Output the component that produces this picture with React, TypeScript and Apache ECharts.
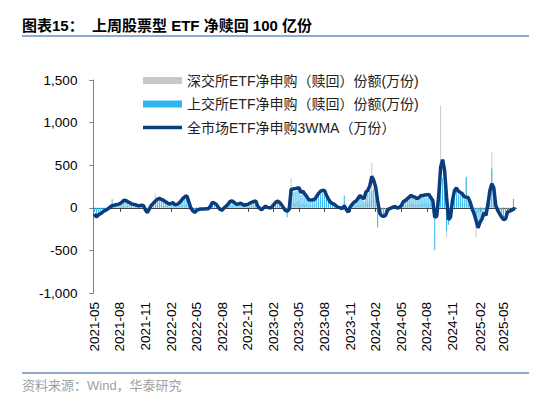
import React, { useEffect, useRef } from "react";
import * as echarts from "echarts";

// ---------- data ----------
const START_DATE = "2021-05-07"; // first weekly observation (Friday)
const WEEK_COUNT = 215;
const LABEL_MONTHS = ["02", "05", "08", "11"];
const Y_TICKS = [-1000, -500, 0, 500, 1000, 1500];

const SERIES_NAMES = [
  "深交所ETF净申购（赎回）份额(万份)",
  "上交所ETF净申购（赎回）份额(万份)",
  "全市场ETF净申购3WMA（万份）",
];

// 深交所 weekly net creation (万份)
const SZ_VALUES = [
  -20, -30, -20, -20, -10, -10, -10, -10, 0, 20,
  10, 10, 10, 10, 20, 20, 20, 20, 20, 10,
  10, 10, 10, 10, 10, 10, -10, -20, 0, 10,
  20, 160, 30, 30, 30, 20, 20, 20, 10, 10,
  20, 10, 10, 20, 20, 30, 30, 40, 20, -10,
  -10, -20, -10, -10, -10, 0, 0,
  0, 0, 10, 20, 20, 10, 0, -10, -10, 0, 10, 10, 20, 20,
  20, 10, 10, 20, 10, 10, 10, 10, 20, 20, 20, 20, 10, 0, -10, 0, 10, 0, 0,
  0,
  10, 20, 20, 20, 10, 0, -10, -30, -10, 350, 60,
  60, 70, 80, 40, 60, 50, 40, 30, 30, 30,
  30, 40, 50, 60, 60, 60, 40, 30, 20, 20, 10, 10, 0,
  0,
  -10, 40, -10, -20, 0, 10, 20,
  20, 30, 40, 30, 30, 50, 60, 80, 530, 100,
  60, -40, -30, -30, -30, -20, -10, 0, 0, 0,
  10, 0, 0, 10, 20, 30, 30, 40, 50, 40,
  40, 30, 40, 40, 50, 50,
  50,
  50, 40, 30, -100,
  -30, 60, 1200, 300, 150, -350, -100, -40, 20, 60,
  80, 60, 50, 60, 40, 365, 40, 20, -10, -20,
  -350, -60, -40, -30, -20, -30, 20, 60, 650, 80,
  10, -10, -20, -40, -40, -40, -20, -10, -10, 30, -10,
];

// 上交所 weekly net creation (万份)
const SH_VALUES = [
  -50, -120, -80, -60, -50, -30, -20, -20, 10, 100,
  10, 30, 30, 40, 60, 80, 70, 60, 50, 40,
  30, 30, 20, 20, 30, 10, -40, -60, 0, 30,
  50, 70, 80, 90, 80, 70, 60, 50, 30, 40,
  50, 20, 30, 50, 70, 90, 110, 120, 50, -20,
  -40, -60, -30, -20, -10, -20, -10,
  -10, -10, 20, 60, 40, 30, 0, -20, -30, 0, 20, 40, 60, 70,
  50, 30, 30, 50, 40, 20, 30, 30, 40, 50, 60, 70, 10, -10, -30, 0, 10, 0, -10,
  0,
  30, 50, 70, 50, 30, 0, -40, -110, -30, 170, 180,
  190, 200, 200, 150, 160, 130, 100, 80, 70, 80,
  80, 110, 140, 160, 170, 160, 120, 80, 50, 40, 30, 10, 0,
  0,
  -20, 145, -30, -60, 0, 30, 50,
  70, 90, 120, 100, 80, 150, 170, 200, 200, 230,
  180, -230, -70, -90, -90, -80, -30, -10, 0, 10,
  10, -10, 0, 20, 60, 70, 90, 100, 130, 110,
  100, 80, 100, 120, 130, 120,
  125,
  130, 100, 60, -495,
  -100, 100, 320, 350, 260, -270, -200, -100, 60, 160,
  200, 160, 150, 140, 100, 360, 100, 50, -20, -60,
  -120, -200, -150, -110, -50, -80, 30, 150, 460, 180,
  20, -20, -60, -90, -120, -110, -40, -30, -20, 105, -10,
];

// 全市场 3-week moving average (万份)
const WMA_VALUES = [
  -70, -110, -85, -70, -55, -35, -25, -10, 10, 25,
  30, 35, 40, 50, 65, 90, 85, 70, 60, 45,
  40, 35, 25, 25, 30, 25, -30, -55, -10, 30,
  55, 80, 100, 110, 100, 90, 75, 60, 45, 50,
  60, 35, 40, 55, 80, 110, 130, 140, 70, 0,
  -35, -55, -30, -20, -15, -15, -15,
  -10, -10, 20, 65, 55, 40, 5, -20, -25, 0, 20, 45, 75, 80,
  65, 45, 40, 55, 45, 30, 35, 40, 55, 65, 75, 80, 20, -5, -25, 0, 20, 5, 0,
  0,
  35, 60, 80, 65, 40, 5, -30, -40, -20, 215, 220,
  225, 230, 235, 180, 195, 160, 130, 95, 90, 95,
  100, 135, 170, 195, 205, 200, 145, 100, 65, 50, 40, 20, 5,
  0,
  -10, 25, -20, -50, 10, 40, 65,
  80, 110, 145, 120, 105, 185, 205, 260, 370, 320,
  240, 80, -60, -95, -100, -90, -30, -10, 0, 10,
  15, -5, 5, 25, 70, 85, 105, 125, 145, 130,
  125, 105, 120, 145, 145, 150,
  152,
  157, 120, 86, -110,
  -100, 140, 480, 565, 440, 125, -140, -110, 86, 200,
  235, 196, 180, 165, 130, 125, 120, 67, -12, -70,
  -150, -235, -170, -130, -60, -90, 40, 200, 282, 235,
  27, -30, -70, -110, -140, -130, -50, -40, -30, -12, -15,
];

// weekly category dates
const DATES: string[] = (() => {
  const out: string[] = [];
  const [y, m, d] = START_DATE.split("-").map(Number);
  const t0 = Date.UTC(y, m - 1, d);
  for (let i = 0; i < WEEK_COUNT; i++) {
    out.push(new Date(t0 + i * 7 * 86400000).toISOString().slice(0, 10));
  }
  return out;
})();

const showDateLabel = (index: number, value: string) => {
  const month = value.slice(5, 7);
  if (!LABEL_MONTHS.includes(month)) return false;
  if (index === 0) return true;
  return DATES[index - 1].slice(5, 7) !== month;
};

const FONT = '"Liberation Sans", Arial, "Noto Sans CJK SC", sans-serif';
// thin horizontal bar inside a 39x7 box (tiny corner specks fix the box size)
const LINE_ICON =
  "path://M0,0L0.05,0L0.05,0.05Z M0,1.7L39,1.7L39,5.3L0,5.3Z M38.95,7L39,7L39,6.95Z";

export default function App() {
  const ref = useRef<HTMLDivElement>(null);

  useEffect(() => {
    document.body.style.margin = "0";
    if (!ref.current) return;
    const chart = echarts.init(ref.current, undefined, { renderer: "svg" });
    const option: any = {
      animation: false,
      backgroundColor: "#ffffff",
      textStyle: { fontFamily: FONT },
      graphic: [
        {
          type: "text",
          left: 22,
          top: 18,
          style: {
            text: "图表15：  上周股票型 ETF 净赎回 100 亿份",
            fontSize: 15,
            fontWeight: "bold",
            fontFamily: FONT,
            fill: "#000000",
          },
        },
        {
          type: "line",
          shape: { x1: 22, y1: 36, x2: 529, y2: 36 },
          style: { stroke: "#8FAACA", lineWidth: 2 },
        },
        {
          type: "line",
          shape: { x1: 22, y1: 373, x2: 529, y2: 373 },
          style: { stroke: "#8FAACA", lineWidth: 2 },
        },
        {
          type: "text",
          left: 22,
          top: 379,
          style: {
            text: "资料来源：Wind，华泰研究",
            fontSize: 13,
            fontFamily: FONT,
            fill: "#A0A0A0",
          },
        },
      ],
      legend: {
        orient: "vertical",
        left: 138,
        top: 67.5,
        itemWidth: 39,
        itemHeight: 7,
        itemGap: 7.5,
        symbolKeepAspect: false,
        textStyle: { fontSize: 14, lineHeight: 16, color: "#222", fontFamily: FONT },
        data: [
          { name: SERIES_NAMES[0], icon: "rect" },
          { name: SERIES_NAMES[1], icon: "rect" },
          { name: SERIES_NAMES[2], icon: LINE_ICON, itemStyle: { color: "#0B3C7E" } },
        ],
      },
      grid: { left: 93.4, top: 80, width: 423, height: 213 },
      xAxis: [
        {
          type: "category",
          data: DATES,
          position: "bottom",
          axisLine: { show: false, onZero: false },
          axisTick: { show: false },
          splitLine: { show: false },
          axisLabel: {
            interval: showDateLabel,
            formatter: (v: string) => v.slice(0, 7),
            rotate: 90,
            fontSize: 13.5,
            color: "#000",
            margin: 9,
            fontFamily: FONT,
          },
        },
        {
          type: "category",
          data: DATES,
          position: "bottom",
          axisLine: { show: true, onZero: true, lineStyle: { color: "#404040", width: 1 } },
          axisTick: {
            show: true,
            interval: showDateLabel,
            alignWithLabel: true,
            length: 4,
            lineStyle: { color: "#404040" },
          },
          axisLabel: { show: false },
          splitLine: { show: false },
        },
      ],
      yAxis: {
        type: "value",
        min: Y_TICKS[0],
        max: Y_TICKS[Y_TICKS.length - 1],
        interval: 500,
        axisLine: { show: true, lineStyle: { color: "#7F7F7F", width: 1 } },
        axisTick: { show: true, length: 4, lineStyle: { color: "#7F7F7F" } },
        splitLine: { show: false },
        axisLabel: {
          margin: 16,
          fontSize: 13.5,
          color: "#000",
          fontFamily: FONT,
          formatter: (v: number) => v.toLocaleString("en-US"),
        },
      },
      series: [
        {
          name: SERIES_NAMES[0],
          type: "bar",
          xAxisIndex: 0,
          data: SZ_VALUES,
          barWidth: 1,
          barGap: "-100%",
          itemStyle: { color: "#C8C8C8" },
        },
        {
          name: SERIES_NAMES[1],
          type: "bar",
          xAxisIndex: 0,
          data: SH_VALUES,
          barWidth: 1,
          barGap: "-100%",
          itemStyle: { color: "#2DB7F0" },
        },
        {
          name: SERIES_NAMES[2],
          type: "line",
          xAxisIndex: 0,
          data: WMA_VALUES,
          symbol: "none",
          showSymbol: false,
          z: 5,
          lineStyle: { color: "#0B3C7E", width: 3.5 },
          itemStyle: { color: "#0B3C7E" },
        },
      ],
    };
    chart.setOption(option);
    return () => chart.dispose();
  }, []);

  return <div ref={ref} style={{ width: 550, height: 407 }} />;
}
